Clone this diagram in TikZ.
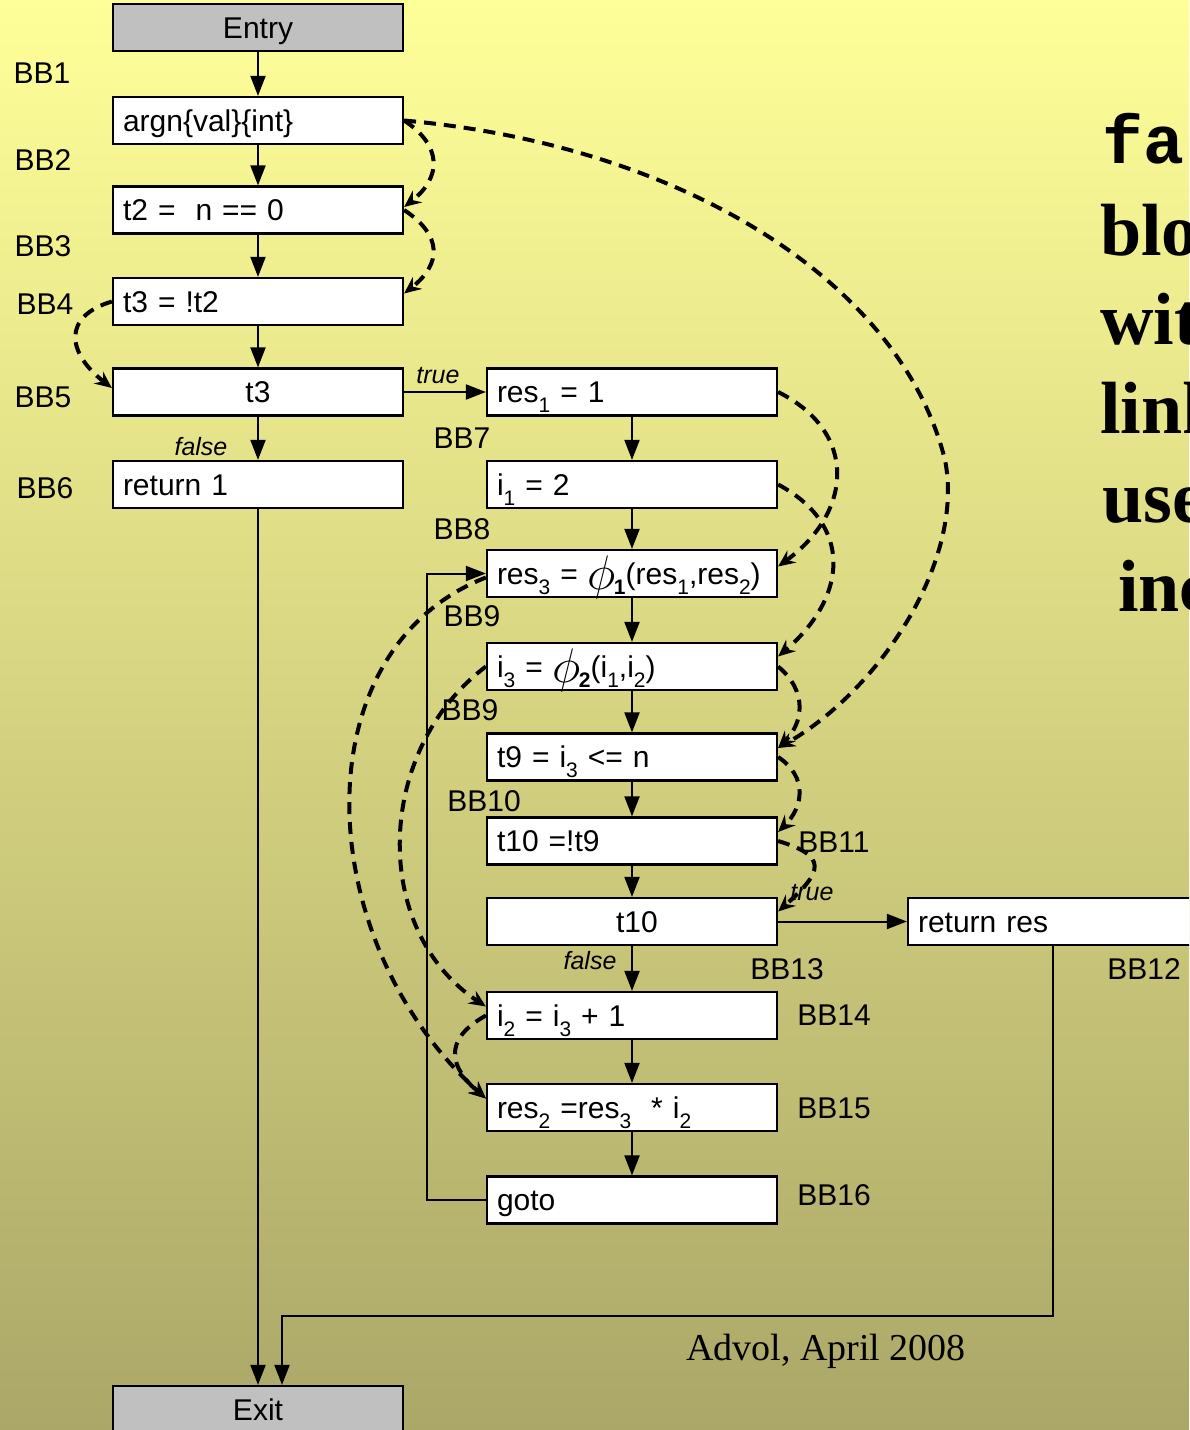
\documentclass[tikz,border=0pt]{standalone}
\usepackage{fontspec}
\setmainfont{Liberation Sans}
\newfontfamily\serifface{Liberation Serif}
\newfontfamily\monoface{Liberation Mono}
\usetikzlibrary{arrows.meta}
\definecolor{bgtop}{RGB}{255,255,153}
\definecolor{bgbottom}{RGB}{171,167,104}
\definecolor{blkgray}{RGB}{192,192,192}
\newcommand{\lo}[1]{\raisebox{-10pt}{\fontsize{21}{21}\selectfont #1}}
\newcommand{\phifn}[1]{\raisebox{-5pt}{\scalebox{1.95}{$\phi$}}\kern-2pt\raisebox{-10pt}{\fontsize{21}{21}\selectfont\bfseries #1}}

\begin{document}
\begin{tikzpicture}[%
      x=1pt, y=-1pt,
      blk/.style={draw, fill=white, line width=2.2pt, text width=270pt, inner xsep=10pt, inner ysep=0pt,
        minimum height=47pt, text height=21pt, text depth=0pt, align=left, font=\fontsize{30}{34}\selectfont},
      ctr/.style={blk, align=center},
      term/.style={ctr, fill=blkgray},
      bb/.style={inner sep=0pt, font=\fontsize{30}{34}\selectfont},
      cond/.style={inner sep=0pt, font=\fontsize{25}{28}\selectfont\itshape},
      flow/.style={line width=2pt, -{Triangle[length=20pt,width=15pt]}},
      defuse/.style={line width=4pt, dash pattern=on 12pt off 8pt, -{Stealth[length=17pt,width=15pt,inset=6pt]}},
      ]
      \useasboundingbox (0,0) rectangle (1189,1430);
      \clip (0,0) rectangle (1189,1430);
      \shade [top color=bgtop, bottom color=bgbottom] (0,0) rectangle (1189,1430);

      \node [term] (entry) at (258,27.5) {Entry};
      \node [blk] (argn) at (258,120.5) {argn\{val\}\{int\}};
      \node [blk] (t2) at (258,210) {t2 = \ n == 0};
      \node [blk] (t3n) at (258,301.5) {t3 = !t2};
      \node [ctr] (t3) at (258,392) {t3};
      \node [blk] (ret1) at (258,484.5) {return 1};
      \node [term] (exit) at (258,1409.5) {Exit};

      \node [blk] (res1) at (632,392) {res\lo{1} = 1};
      \node [blk] (i1) at (632,484.5) {i\lo{1} = 2};
      \node [blk] (res3) at (632,573.5) {\mbox{res\lo{3} = \phifn{1}(res\lo{1},res\lo{2})}};
      \node [blk] (i3) at (632,666.5) {\mbox{i\lo{3} = \phifn{2}(i\lo{1},i\lo{2})}};
      \node [blk] (t9) at (632,757) {t9 = i\lo{3} <= n};
      \node [blk] (t10n) at (632,841) {t10 =!t9};
      \node [ctr] (t10) at (632,921.5) {\ t10};
      \node [blk] (i2) at (632,1015.5) {i\lo{2} = i\lo{3} + 1};
      \node [blk] (res2) at (632,1107.5) {res\lo{2} =res\lo{3} \ * i\lo{2}};
      \node [blk] (goto) at (632,1200) {goto};
      \node [blk] (retres) at (1053,921.5) {return res};

      \node [bb] (bb1) at (42,73) {BB1};
      \node [bb] (bb2) at (43,160) {BB2};
      \node [bb] (bb3) at (43,246) {BB3};
      \node [bb] (bb4) at (45,304) {BB4};
      \node [bb] (bb5) at (43,397) {BB5};
      \node [bb] (bb6) at (45,488) {BB6};
      \node [bb] (bb7) at (462,438) {BB7};
      \node [bb] (bb8) at (462,529) {BB8};
      \node [bb] (bb9a) at (472,616) {BB9};
      \node [bb] (bb9b) at (470,710) {BB9};
      \node [bb] (bb10) at (484,801) {BB10};
      \node [bb] (bb11) at (834,842) {BB11};
      \node [bb] (bb13) at (787,969) {BB13};
      \node [bb] (bb12) at (1144,969) {BB12};
      \node [bb] (bb14) at (834,1015) {BB14};
      \node [bb] (bb15) at (834,1108) {BB15};
      \node [bb] (bb16) at (834,1195) {BB16};

      \node [cond] (false1) at (201,447) {false};
      \node [cond] (true1) at (438,376) {true};
      \node [cond] (true2) at (812,893) {true};
      \node [cond] (false2) at (590,961) {false};

      \draw [flow] (entry) -- (argn);
      \draw [flow] (argn) -- (t2);
      \draw [flow] (t2) -- (t3n);
      \draw [flow] (t3n) -- (t3);
      \draw [flow] (t3) -- (ret1);
      \draw [flow] (t3) -- (res1);
      \draw [flow] (res1) -- (i1);
      \draw [flow] (i1) -- (res3);
      \draw [flow] (res3) -- (i3);
      \draw [flow] (i3) -- (t9);
      \draw [flow] (t9) -- (t10n);
      \draw [flow] (t10n) -- (t10);
      \draw [flow] (t10) -- (i2);
      \draw [flow] (t10) -- (retres);
      \draw [flow] (i2) -- (res2);
      \draw [flow] (res2) -- (goto);
      \draw [flow] (goto.west) -- ++(-59,0) |- (res3.west);
      \draw [flow] (ret1) -- (exit);
      \draw [flow] (retres.south) -- ++(0,370) -| ([xshift=24pt]exit.north);

      \draw [defuse] (argn.east) .. controls +(38,25) and +(38,-30) .. ([yshift=3pt]t2.east);
      \draw [defuse] (t2.east) .. controls +(38,25) and +(38,-30) .. ([yshift=8pt]t3n.east);
      \draw [defuse] (argn.east) .. controls (680,145) and (900,280) .. (945,460)
            .. controls (965,560) and (880,690) .. ([yshift=9pt]t9.east);
      \draw [defuse] (t3n.west) .. controls +(-50,15) and +(-45,-35) .. ([yshift=4pt]t3.west);
      \draw [defuse] (res1.east) .. controls +(80,40) and +(75,-55) .. ([yshift=7pt]res3.east);
      \draw [defuse] (i1.east) .. controls +(75,40) and +(70,-60) .. ([yshift=10pt]i3.east);
      \draw [defuse] (i3.east) .. controls +(30,25) and +(25,-25) .. ([yshift=9pt]t9.east);
      \draw [defuse] (t9.east) .. controls +(30,20) and +(25,-25) .. ([yshift=9pt]t10n.east);
      \draw [defuse] (t10n.east) .. controls +(50,15) and +(45,-40) .. ([yshift=10pt]t10.east);
      \draw [defuse] ([yshift=-4pt]res3.west) .. controls (300,650) and (310,940) .. ([yshift=9pt]res2.west);
      \draw [defuse] (i3.west) .. controls (375,750) and (370,930) .. ([yshift=9pt]i2.west);
      \draw [defuse] (i2.west) .. controls +(-45,25) and +(-35,-30) .. ([yshift=9pt]res2.west);

      \node [anchor=base west, inner sep=0pt, font=\monoface\bfseries\fontsize{68}{68}\selectfont] (word1) at (1102,163) {fa};
      \node [anchor=base west, inner sep=0pt, font=\serifface\bfseries\fontsize{74}{74}\selectfont] (word2) at (1100,255) {blo};
      \node [anchor=base west, inner sep=0pt, font=\serifface\bfseries\fontsize{74}{74}\selectfont] (word3) at (1100,344) {wit};
      \node [anchor=base west, inner sep=0pt, font=\serifface\bfseries\fontsize{74}{74}\selectfont] (word4) at (1100,433) {link};
      \node [anchor=base west, inner sep=0pt, font=\serifface\bfseries\fontsize{74}{74}\selectfont] (word5) at (1102,522) {use};
      \node [anchor=base west, inner sep=0pt, font=\serifface\bfseries\fontsize{74}{74}\selectfont] (word6) at (1118,611) {inc};
      \node [anchor=base west, inner sep=0pt, font=\serifface\fontsize{38}{38}\selectfont] (credit) at (686,1360) {Advol, April 2008};
      \end{tikzpicture}
\end{document}
